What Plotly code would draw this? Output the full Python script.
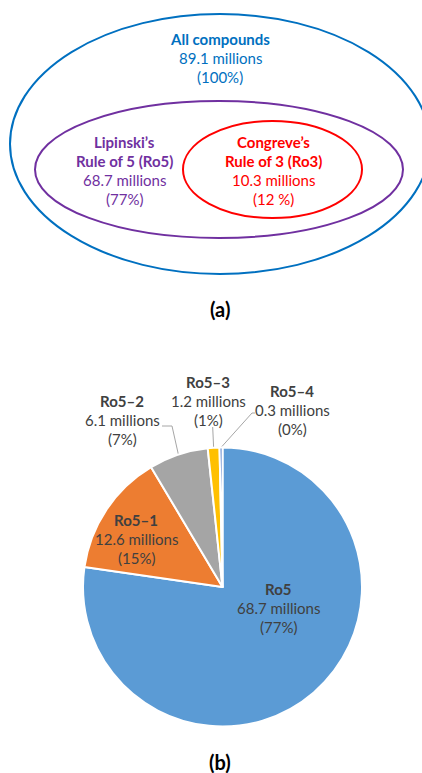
import numpy as np
import plotly.graph_objects as go

W, H = 422, 773
FONT = "Lato, 'Open Sans', sans-serif"

# ---------------- data ----------------
venn_titles = [["All compounds"], ["Lipinski’s", "Rule of 5 (Ro5)"], ["Congreve’s", "Rule of 3 (Ro3)"]]
venn_counts = [89.1, 68.7, 10.3]
venn_pct = ["(100%)", "(77%)", "(12 %)"]
venn_colors = ["#0070C0", "#7030A0", "#FF0000"]

pie_labels = ["Ro5", "Ro5–1", "Ro5–2", "Ro5–3", "Ro5–4"]
pie_values = [68.7, 12.6, 6.1, 1.2, 0.3]
pie_pct = ["(77%)", "(15%)", "(7%)", "(1%)", "(0%)"]
pie_colors = ["#5B9BD5", "#ED7D31", "#A5A5A5", "#FFC000", "#4472C4"]

# ---------------- layout constants (pixels) ----------------
venn_boxes = [(10, 14, 430, 274), (35, 101, 403, 238), (183, 121, 362, 218)]
venn_text_pos = [(220, 39), (124, 142), (273, 142)]
pie_cx, pie_cy, pie_r = 222.5, 587, 139.5
pie_text_pos = [(278, 589), (136, 520), (122, 401), (208, 382), (292, 391)]
LH = 19

fig = go.Figure()

# pie
fig.add_trace(go.Pie(
    labels=pie_labels, values=pie_values, sort=False, direction="clockwise", rotation=0,
    marker=dict(colors=pie_colors, line=dict(color="white", width=2)),
    textinfo="none", hoverinfo="skip", showlegend=False,
    domain=dict(x=[(pie_cx - pie_r) / W, (pie_cx + pie_r) / W],
                y=[(H - pie_cy - pie_r) / H, (H - pie_cy + pie_r) / H]),
))

# leader lines from slice edges (angles from data)
vals = np.array(pie_values)
cum = np.cumsum(vals) - vals / 2
mid_deg = cum / vals.sum() * 360.0
edge = [(pie_cx + pie_r * np.sin(np.radians(a)), pie_cy - pie_r * np.cos(np.radians(a))) for a in mid_deg]
leader_elbows = {2: [(172, 426), (162, 426)], 3: [(212.7, 427)], 4: [(252, 413), (255, 413)]}
for i, pts in leader_elbows.items():
    xs = [edge[i][0]] + [p[0] for p in pts]
    ys = [edge[i][1]] + [p[1] for p in pts]
    fig.add_trace(go.Scatter(x=xs, y=ys, mode="lines", line=dict(color="#A6A6A6", width=1),
                             hoverinfo="skip", showlegend=False))

annotations = []

def add_line(x, y, text, color, size=15, bold=False):
    annotations.append(dict(x=x, y=y, xref="x", yref="y", text=f"<b>{text}</b>" if bold else text,
                            showarrow=False, xanchor="center", yanchor="middle",
                            font=dict(family=FONT, size=size, color=color)))

shapes = []
for (x0, y0, x1, y1), col in zip(venn_boxes, venn_colors):
    shapes.append(dict(type="circle", xref="x", yref="y", x0=x0, y0=y0, x1=x1, y1=y1,
                       line=dict(color=col, width=2), fillcolor="rgba(0,0,0,0)", layer="above"))

for titles, cnt, pct, col, (x, y) in zip(venn_titles, venn_counts, venn_pct, venn_colors, venn_text_pos):
    lines = [(t, True) for t in titles] + [(f"{cnt} millions", False), (pct, False)]
    for k, (t, b) in enumerate(lines):
        add_line(x, y + k * LH, t, col, bold=b)

for lab, v, pct, (x, y) in zip(pie_labels, pie_values, pie_pct, pie_text_pos):
    for k, (t, b) in enumerate([(lab, True), (f"{v} millions", False), (pct, False)]):
        add_line(x, y + k * LH, t, "#404040", bold=b)

add_line(220, 309, "(a)", "#000000", size=20, bold=True)
add_line(220, 762, "(b)", "#000000", size=20, bold=True)

fig.update_layout(
    width=W, height=H, autosize=False, margin=dict(l=0, r=0, t=0, b=0),
    paper_bgcolor="white", plot_bgcolor="rgba(0,0,0,0)",
    xaxis=dict(range=[0, W], visible=False, fixedrange=True),
    yaxis=dict(range=[H, 0], visible=False, fixedrange=True),
    shapes=shapes, annotations=annotations,
)

fig.write_html("out.html", config={"displayModeBar": False})
